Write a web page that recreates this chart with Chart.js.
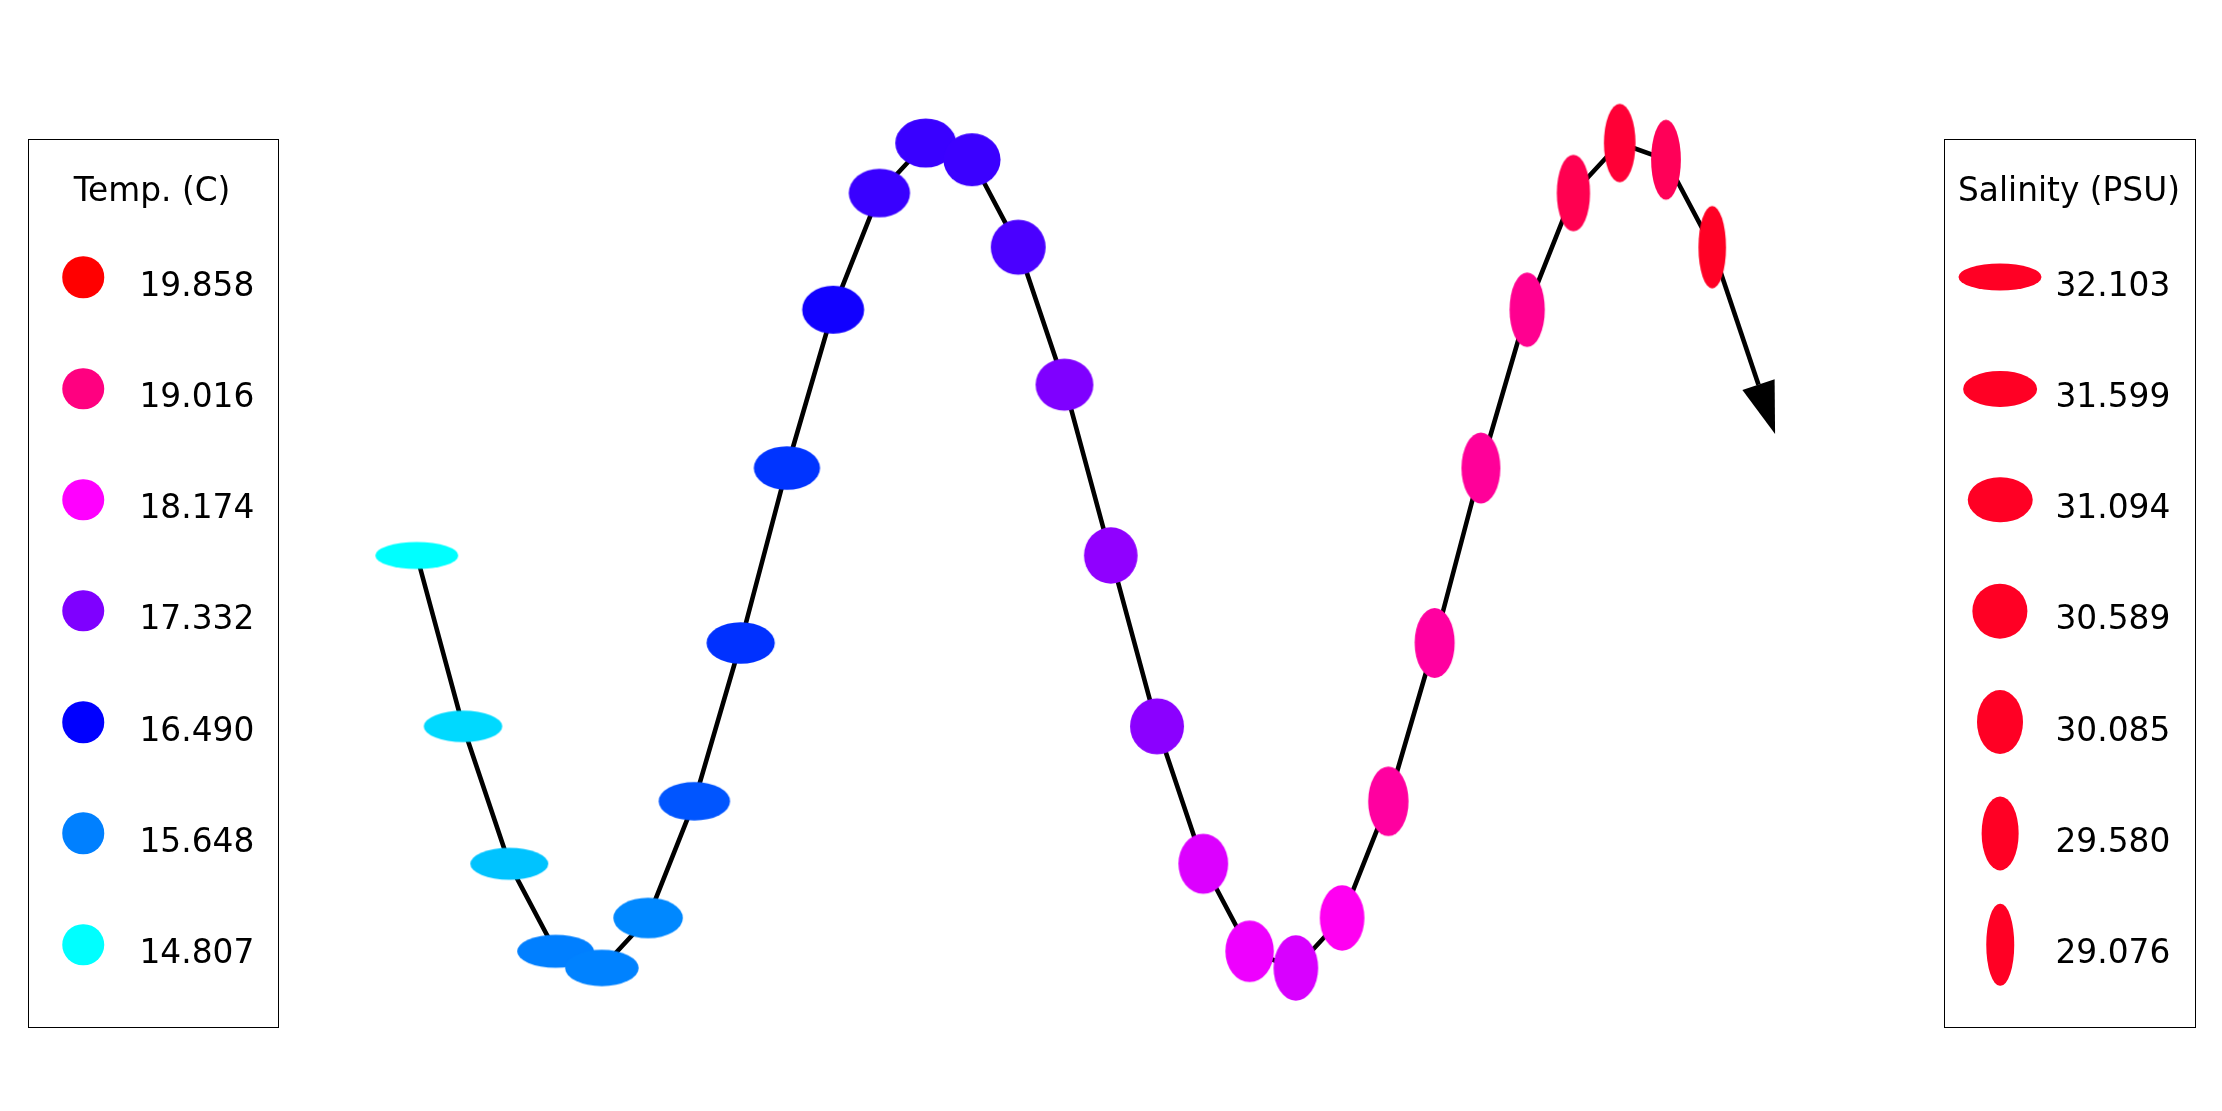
<!DOCTYPE html>
<html>
<head>
<meta charset="utf-8">
<script src="https://cdn.jsdelivr.net/npm/chart.js@4/dist/chart.umd.min.js"></script>
<style>
html,body{margin:0;padding:0;background:#fff;}
#wrap{position:relative;width:2222px;height:1111px;overflow:hidden;font-family:"DejaVu Sans",sans-serif;color:#000;}
#chart{position:absolute;left:0;top:0;}
.box{position:absolute;border:1.2px solid #000;box-sizing:border-box;background:transparent;}
.title{position:absolute;font-size:32.8px;line-height:1;white-space:nowrap;transform:translate(-50%,-50%);}
.lbl{position:absolute;font-size:32.8px;line-height:1;white-space:nowrap;transform:translateY(-50%);}
.mk{position:absolute;border-radius:50%;transform:translate(-50%,-50%);}
</style>
</head>
<body>
<div id="wrap">
  <canvas id="chart" width="2222" height="1111"></canvas>
  <div class="box" style="left:27.5px;top:138.5px;width:251px;height:889.5px;"></div>
  <div class="box" style="left:1943.5px;top:138.5px;width:252.5px;height:889.5px;"></div>
  <div class="title" id="tempTitle" style="left:152px;top:189.5px;"></div>
  <div class="title" id="saltTitle" style="left:2069px;top:189.5px;"></div>
  <div id="tempLegend"></div>
  <div id="saltLegend"></div>
</div>
<script>
// ---------------- data ----------------
const xValues = [0,1,2,3,4,5,6,7,8,9,10,11,12,13,14,15,16,17,18,19,20,21,22,23,24,25,26,27,28];
const yValues = [0,-0.41,-0.74,-0.95,-0.99,-0.87,-0.59,-0.21,0.21,0.59,0.87,0.99,0.95,0.74,0.41,
                 0,-0.41,-0.74,-0.95,-0.99,-0.87,-0.59,-0.21,0.21,0.59,0.87,0.99,0.95,0.74];
const temperature = [14.81,15.06,15.20,15.65,15.63,15.59,15.93,16.17,16.15,16.60,16.87,16.87,16.88,16.98,17.33,
                     17.44,17.41,17.94,18.06,17.92,18.27,18.80,18.80,18.85,18.91,19.33,19.50,19.28,19.62];
const salinity = [32.10,31.86,31.83,31.77,31.59,31.37,31.47,31.30,31.19,30.96,30.92,30.90,30.69,30.57,30.73,
                  30.50,30.52,30.29,30.22,30.01,30.01,29.78,29.76,29.70,29.50,29.39,29.30,29.20,29.08];
const arrowEnd = {x: 29, y: 0.41};
const tempTitle = "Temp. (C)";
const saltTitle = "Salinity (PSU)";
const tempTicks = ["19.858","19.016","18.174","17.332","16.490","15.648","14.807"];
const saltTicks = ["32.103","31.599","31.094","30.589","30.085","29.580","29.076"];

// ---------------- mappings ----------------
const tMin = parseFloat(tempTicks[tempTicks.length-1]), tMax = parseFloat(tempTicks[0]);
const sMin = parseFloat(saltTicks[saltTicks.length-1]), sMax = parseFloat(saltTicks[0]);
function clamp01(v){return Math.max(0,Math.min(1,v));}
function tempColor(T){
  const t = clamp01((T - tMin)/(tMax - tMin));
  let r,g,b;
  if (t < 1/3){ r=0; g=255*(1-3*t); b=255; }
  else if (t < 2/3){ r=255*(3*t-1); g=0; b=255; }
  else { r=255; g=0; b=255*(3-3*t); }
  return 'rgb('+Math.round(r)+','+Math.round(g)+','+Math.round(b)+')';
}
function saltSize(s){
  const t = (s - sMin)/(sMax - sMin);
  return {w: 27.5 + 55.5*t, h: 82.5 - 55.5*t};
}
function ellipseCanvas(w,h,color){
  const c = document.createElement('canvas');
  c.width = Math.ceil(w)+2; c.height = Math.ceil(h)+2;
  const g = c.getContext('2d');
  g.fillStyle = color;
  g.beginPath();
  g.ellipse(c.width/2, c.height/2, w/2, h/2, 0, 0, Math.PI*2);
  g.fill();
  return c;
}
const pointStyles = xValues.map((_,i)=>{
  const sz = saltSize(salinity[i]);
  return ellipseCanvas(sz.w, sz.h, tempColor(temperature[i]));
});
const saltLegendColor = tempColor(temperature[temperature.length-1]);

// ---------------- arrow plugin ----------------
const arrowPlugin = {
  id: 'arrow',
  beforeDatasetsDraw(chart){
    const {ctx, chartArea, scales} = chart;
    const n = xValues.length-1;
    const x0 = scales.x.getPixelForValue(xValues[n]), y0 = scales.y.getPixelForValue(yValues[n]);
    const x1 = scales.x.getPixelForValue(arrowEnd.x), y1 = scales.y.getPixelForValue(arrowEnd.y);
    const dx = x1-x0, dy = y1-y0, L = Math.hypot(dx,dy);
    const ux = dx/L, uy = dy/L, px = -uy, py = ux;
    const headLen = 52, headHalf = 17;
    ctx.save();
    ctx.beginPath();
    ctx.rect(chartArea.left, chartArea.top, chartArea.right-chartArea.left, chartArea.bottom-chartArea.top);
    ctx.clip();
    ctx.strokeStyle = '#000'; ctx.lineWidth = 4.6; ctx.lineCap = 'butt';
    ctx.beginPath(); ctx.moveTo(x0,y0); ctx.lineTo(x1,y1); ctx.stroke();
    ctx.fillStyle = '#000';
    ctx.beginPath();
    ctx.moveTo(x1+px*headHalf, y1+py*headHalf);
    ctx.lineTo(x1+ux*headLen, y1+uy*headLen);
    ctx.lineTo(x1-px*headHalf, y1-py*headHalf);
    ctx.closePath(); ctx.fill();
    ctx.restore();
  }
};

// ---------------- chart ----------------
new Chart(document.getElementById('chart'), {
  type: 'line',
  data: {
    datasets: [{
      data: xValues.map((x,i)=>({x:x, y:yValues[i]})),
      borderColor: '#000',
      borderWidth: 4.6,
      borderJoinStyle: 'round',
      tension: 0,
      fill: false,
      pointStyle: pointStyles,
      pointRadius: 20,
      pointBorderWidth: 0,
      pointBackgroundColor: 'transparent',
      clip: false
    }]
  },
  options: {
    responsive: false,
    animation: false,
    devicePixelRatio: 1,
    layout: {padding: {left: 352, right: 445, top: 99.5, bottom: 99.5}},
    plugins: {legend: {display: false}, tooltip: {enabled: false}},
    scales: {
      x: {type: 'linear', min: -1.4, max: 29.4, display: false},
      y: {type: 'linear', min: -1.0945, max: 1.0945, display: false}
    }
  },
  plugins: [arrowPlugin]
});

// ---------------- HTML legends ----------------
document.getElementById('tempTitle').textContent = tempTitle;
document.getElementById('saltTitle').textContent = saltTitle;
const row0 = 277.3, rowStep = 111.2;
function addRow(parent, mx, tx, y, w, h, color, text){
  const m = document.createElement('div');
  m.className = 'mk';
  m.style.left = mx+'px'; m.style.top = y+'px';
  m.style.width = w+'px'; m.style.height = h+'px';
  m.style.background = color;
  parent.appendChild(m);
  const l = document.createElement('div');
  l.className = 'lbl';
  l.style.left = tx+'px'; l.style.top = (y+7.5)+'px';
  l.textContent = text;
  parent.appendChild(l);
}
const tl = document.getElementById('tempLegend');
tempTicks.forEach((t,i)=>{
  addRow(tl, 83.3, 139.5, row0+i*rowStep, 41.5, 41.5, tempColor(parseFloat(t)), t);
});
const sl = document.getElementById('saltLegend');
saltTicks.forEach((s,i)=>{
  const sz = saltSize(parseFloat(s));
  addRow(sl, 2000, 2055.5, row0+i*rowStep, sz.w, sz.h, saltLegendColor, s);
});
</script>
</body>
</html>
